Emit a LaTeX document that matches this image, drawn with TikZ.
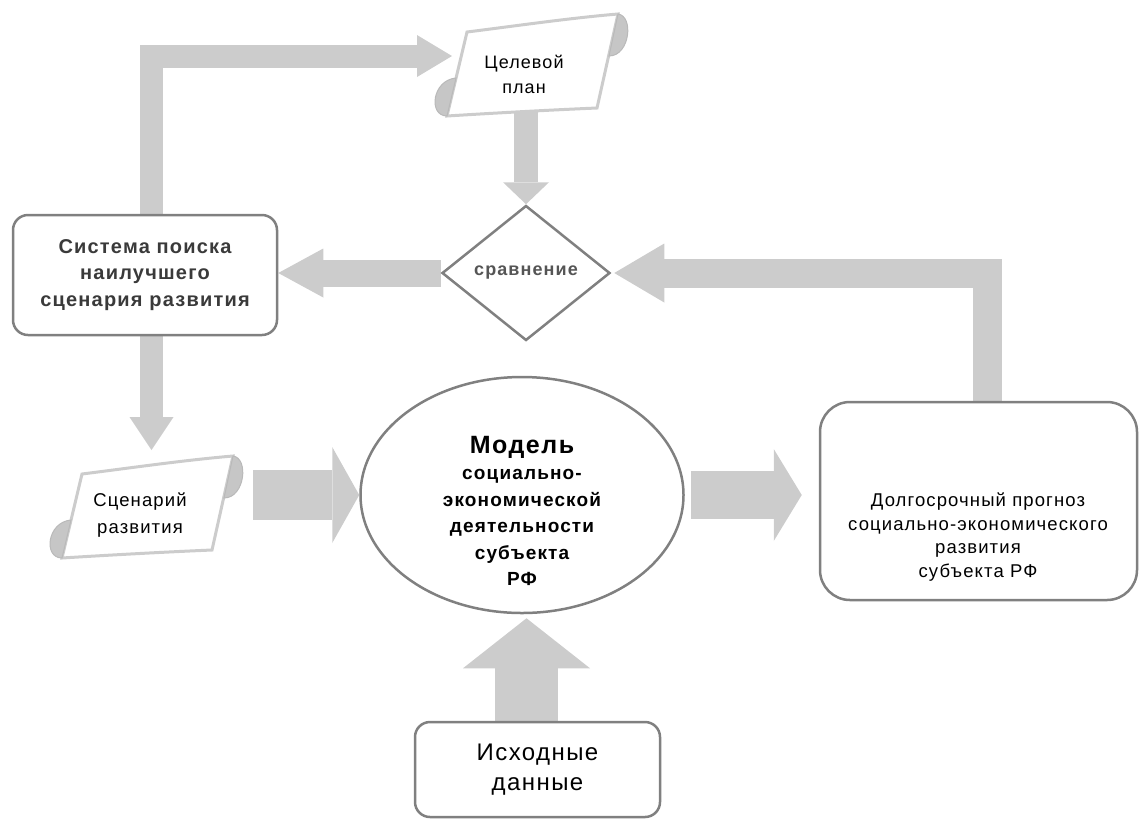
\documentclass[tikz,border=0pt]{standalone}
\usepackage{fontspec}
\setmainfont[LetterSpace=6]{Liberation Sans}
\usetikzlibrary{shapes.geometric,arrows.meta,backgrounds}
\definecolor{inkgray}{HTML}{3A3A3A}
\definecolor{midgray}{HTML}{555555}

\begin{document}
\begin{tikzpicture}[
x=1pt,y=-1pt,
font=\fontsize{17}{23}\selectfont,
box/.style={rectangle,rounded corners=15pt,draw=gray,line width=2.5pt,fill=white,align=center,inner sep=0pt},
bigbox/.style={box,rounded corners=30pt},
decision/.style={diamond,draw=gray,line width=2.5pt,fill=white,inner sep=0pt,minimum width=168pt,minimum height=135pt},
modelshape/.style={ellipse,draw=gray,line width=2.5pt,fill=white,minimum width=323pt,minimum height=236pt,inner sep=0pt},
textblock/.style={align=center,inner sep=0pt},
flow/.style n args={3}{draw=gray!40,line width=#1,-{Triangle[width=#2,length=#3,line width=0pt]}},
scroll/.pic={
  \path[fill=white,draw=gray!40,line width=3pt] (-63,-34) .. controls (-15,-40) and (40,-48) .. (88,-52)
    -- (67,42) .. controls (20,44) and (-35,47) .. (-83,50) -- cycle;
  \path[fill=gray!45,draw=gray!55,line width=1pt] (88,-52) .. controls (104,-50) and (100,-10) .. (79,-10) -- cycle;
  \path[fill=gray!45,draw=gray!55,line width=1pt] (-74,12) .. controls (-98,14) and (-102,50) .. (-83,50) -- cycle;
}
]
\useasboundingbox (0,0) rectangle (1139,820);

\pic at (530,66) {scroll};
\pic at (145,508) {scroll};
\node[textblock,font=\fontsize{18}{25}\selectfont] (plan) at (524,74) {Целевой\\план};
\node[textblock,font=\fontsize{18.5}{27}\selectfont] (scen) at (140,515) {Сценарий\\развития};

\node[box,minimum width=264pt,minimum height=120pt,text=inkgray,
  font=\bfseries\fontsize{20}{26.5}\selectfont] (sys) at (145,275) {Система поиска\\наилучшего\\сценария развития};
\node[decision,text=midgray,font=\bfseries\fontsize{18}{20}\selectfont] (cmp) at (526,273) {сравнение};

\node[modelshape] (model) at (522,495) {};
\node[textblock,font=\bfseries\fontsize{19}{26.5}\selectfont] (modeltext) at (522,511)
  {{\fontsize{25}{31}\selectfont Модель}\\социально-\\экономической\\деятельности\\субъекта\\РФ};

\node[bigbox,minimum width=317pt,minimum height=198pt] (prog) at (978.5,501) {};
\node[textblock,font=\fontsize{18.5}{23.5}\selectfont] (progtext) at (978,537)
  {Долгосрочный прогноз\\социально-экономического\\развития\\субъекта РФ};

\node[box,minimum width=245pt,minimum height=95pt,font=\fontsize{24}{30}\selectfont] (data) at (537.5,769.5) {Исходные\\данные};

% block arrows
\begin{scope}[on background layer]
\draw[flow={23pt}{42pt}{35pt}] ([xshift=6.5pt]sys.north) |- ([xshift=-72pt,yshift=18pt]plan.center);
\draw[flow={24pt}{46pt}{22pt}] ([xshift=2pt]plan.center) -- (cmp.north);
\draw[flow={27pt}{49pt}{45pt}] (cmp.west) -- (cmp.west -| sys.east);
\draw[flow={23pt}{44pt}{33pt}] ([xshift=6.5pt]sys.south) -- ([xshift=11.5pt,yshift=65pt]scen.center);
\draw[flow={50pt}{96pt}{27pt}] ([xshift=113pt,yshift=20pt]scen.center) -- (model.west);
\draw[flow={48pt}{92pt}{28pt}] ([xshift=6pt]model.east) -- ([xshift=-17pt,yshift=6pt]prog.west);
\draw[flow={63pt}{127pt}{50pt}] ([xshift=-11pt]data.north) -- ([xshift=4.5pt,yshift=-4pt]model.south);
\draw[flow={29pt}{59pt}{50pt}] ([xshift=9pt]prog.north) |- ([xshift=3pt]cmp.east);
\end{scope}

\end{tikzpicture}
\end{document}
